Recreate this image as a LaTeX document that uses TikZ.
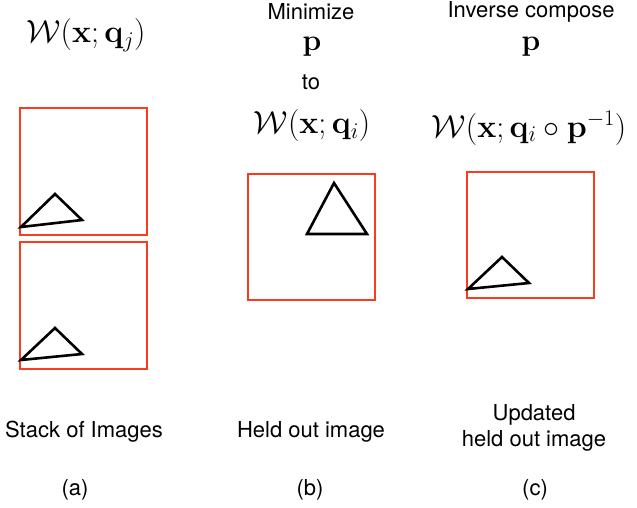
\RequirePackage{fix-cm}
\documentclass[tikz,border=0pt]{standalone}
\usepackage[no-math]{fontspec}
\setmainfont{TeX Gyre Heros}
\definecolor{boxred}{RGB}{250,60,30}
\begin{document}
\begin{tikzpicture}[x=1pt,y=-1pt,
  imgbox/.style={draw=boxred,line width=1.1pt},
  tri/.style={draw=black,line width=2.6pt,line join=miter},
  lbl/.style={font=\fontsize{22}{26}\selectfont,inner sep=0pt},
  mth/.style={font=\fontsize{32}{36}\selectfont,inner sep=0pt},
  pmth/.style={font=\fontsize{30}{34}\selectfont,inner sep=0pt}]
\useasboundingbox (0,0) rectangle (637,508);
% column (a)
\node[mth] (wa) at (86,35) {$\mathcal{W}(\mathbf{x};\mathbf{q}_j)$};
\draw[imgbox] (20,108) rectangle (147,235);
\draw[tri] (21,227) -- (55,194) -- (82,220) -- cycle;
\draw[imgbox] (20,242) rectangle (147,369);
\draw[tri] (21,360) -- (55,328) -- (82,354) -- cycle;
\node[lbl] (sa) at (84,432) {Stack of Images};
\node[lbl] (ca) at (75,490) {(a)};
% column (b)
\node[lbl] (mb) at (311,12) {Minimize};
\node[pmth] (pb) at (312,47) {$\mathbf{p}$};
\node[lbl] (tb) at (311,82) {to};
\node[mth] (wb) at (312,126) {$\mathcal{W}(\mathbf{x};\mathbf{q}_i)$};
\draw[imgbox] (248,174) rectangle (375,300);
\draw[tri] (307,234) -- (334,183) -- (367,234) -- cycle;
\node[lbl] (sb) at (311,432) {Held out image};
\node[lbl] (cb) at (310,490) {(b)};
% column (c)
\node[lbl] (mc) at (531,12) {Inverse compose};
\node[pmth] (pc) at (531,47) {$\mathbf{p}$};
\node[mth] (wc) at (529,128) {$\mathcal{W}(\mathbf{x};\mathbf{q}_i\circ\mathbf{p}^{-1})$};
\draw[imgbox] (467,172) rectangle (594,298);
\draw[tri] (468,289) -- (502,257) -- (529,283) -- cycle;
\node[lbl,align=center] (sc) at (534,428) {Updated\\held out image};
\node[lbl] (cc) at (535,490) {(c)};
\end{tikzpicture}
\end{document}
